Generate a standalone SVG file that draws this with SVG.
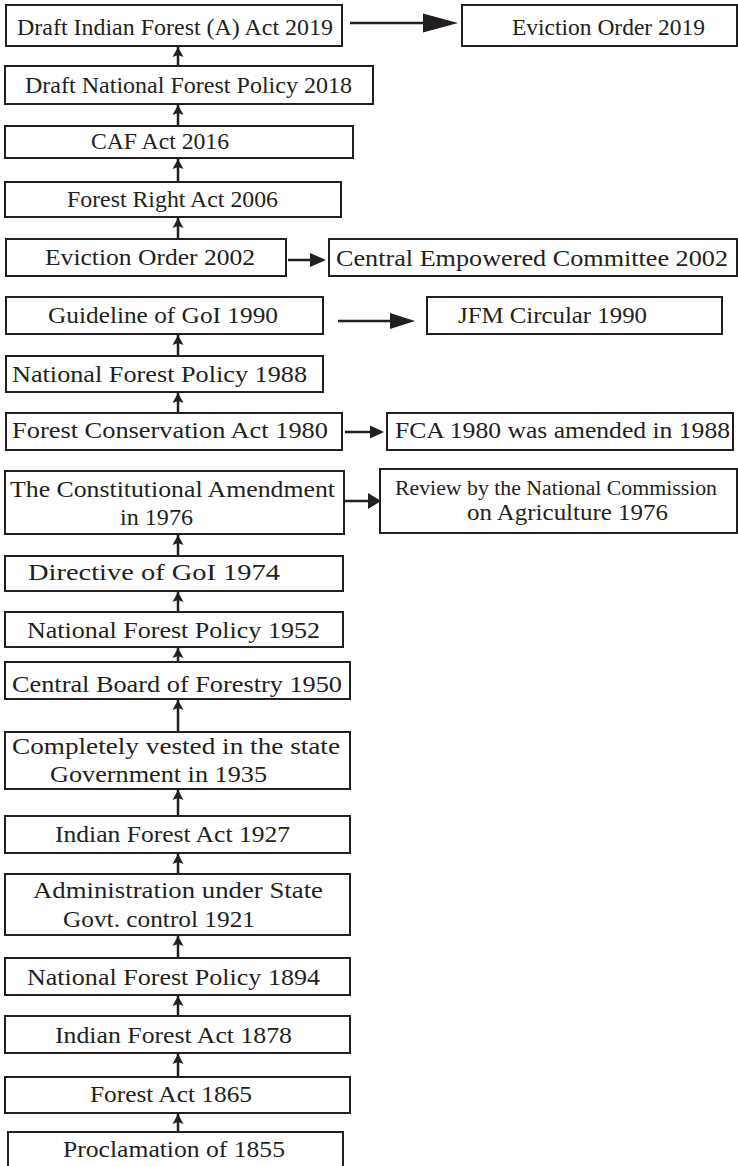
<svg xmlns="http://www.w3.org/2000/svg" width="738" height="1166" viewBox="0 0 738 1166">
<style>
.box{fill:#fff;stroke:#231f20;stroke-width:2}
.t{font-family:"Liberation Serif","Times New Roman",serif;font-size:24px;fill:#231f20}
.ln{stroke:#231f20;stroke-width:2.5;fill:none}
.hd{fill:#231f20}
</style>
<defs>
<marker id="up" markerUnits="userSpaceOnUse" markerWidth="12" markerHeight="12" refX="10" refY="6" orient="auto">
<polygon points="0,0.5 10,6 0,11.5 2,6" fill="#231f20"/>
</marker>
</defs>
<rect width="738" height="1166" fill="#fff"/>
<g id="connectors">
<line class="ln" x1="178" y1="66" x2="178" y2="47" marker-end="url(#up)"/>
<line class="ln" x1="178" y1="126" x2="178" y2="105" marker-end="url(#up)"/>
<line class="ln" x1="178" y1="182" x2="178" y2="159" marker-end="url(#up)"/>
<line class="ln" x1="178" y1="239" x2="178" y2="218" marker-end="url(#up)"/>
<line class="ln" x1="178" y1="356" x2="178" y2="335" marker-end="url(#up)"/>
<line class="ln" x1="178" y1="413" x2="178" y2="393" marker-end="url(#up)"/>
<line class="ln" x1="178" y1="556" x2="178" y2="535" marker-end="url(#up)"/>
<line class="ln" x1="178" y1="612" x2="178" y2="592" marker-end="url(#up)"/>
<line class="ln" x1="178" y1="662" x2="178" y2="648" marker-end="url(#up)"/>
<line class="ln" x1="178" y1="732" x2="178" y2="700" marker-end="url(#up)"/>
<line class="ln" x1="178" y1="816" x2="178" y2="790" marker-end="url(#up)"/>
<line class="ln" x1="178" y1="874" x2="178" y2="854" marker-end="url(#up)"/>
<line class="ln" x1="178" y1="958" x2="178" y2="936" marker-end="url(#up)"/>
<line class="ln" x1="178" y1="1016" x2="178" y2="996" marker-end="url(#up)"/>
<line class="ln" x1="178" y1="1077" x2="178" y2="1054" marker-end="url(#up)"/>
<line class="ln" x1="178" y1="1132" x2="178" y2="1114" marker-end="url(#up)"/>
<line class="ln" x1="350" y1="23" x2="425" y2="23"/>
<polygon class="hd" points="423,13.5 458,23 423,32.5"/>
<line class="ln" x1="288" y1="260" x2="312" y2="260"/>
<polygon class="hd" points="310,253 326,260 310,267"/>
<line class="ln" x1="338" y1="321" x2="392" y2="321"/>
<polygon class="hd" points="390,313 415,321 390,329"/>
<line class="ln" x1="345" y1="432" x2="372" y2="432"/>
<polygon class="hd" points="370,425.5 384,432 370,438.5"/>
<line class="ln" x1="345" y1="501" x2="370" y2="501"/>
<polygon class="hd" points="368,493 381,501 368,509"/>
</g>
<g id="n2019a"><rect class="box" x="6" y="5" width="336" height="41"/><text class="t" x="17" y="35" textLength="316" lengthAdjust="spacingAndGlyphs">Draft Indian Forest (A) Act 2019</text></g>
<g id="n2019b"><rect class="box" x="462" y="5" width="275" height="41"/><text class="t" x="512" y="35" textLength="193" lengthAdjust="spacingAndGlyphs">Eviction Order 2019</text></g>
<g id="n2018"><rect class="box" x="5" y="66" width="368" height="38"/><text class="t" x="25" y="93" textLength="327" lengthAdjust="spacingAndGlyphs">Draft National Forest Policy 2018</text></g>
<g id="n2016"><rect class="box" x="5" y="126" width="348" height="32"/><text class="t" x="91" y="149" textLength="138" lengthAdjust="spacingAndGlyphs">CAF Act 2016</text></g>
<g id="n2006"><rect class="box" x="5" y="182" width="336" height="35"/><text class="t" x="67" y="207" textLength="211" lengthAdjust="spacingAndGlyphs">Forest Right Act 2006</text></g>
<g id="n2002a"><rect class="box" x="6" y="239" width="280" height="37"/><text class="t" x="45" y="265" textLength="210" lengthAdjust="spacingAndGlyphs">Eviction Order 2002</text></g>
<g id="n2002b"><rect class="box" x="329" y="239" width="408" height="37"/><text class="t" x="336" y="266" textLength="392" lengthAdjust="spacingAndGlyphs">Central Empowered Committee 2002</text></g>
<g id="n1990a"><rect class="box" x="6" y="297" width="317" height="37"/><text class="t" x="48" y="323" textLength="230" lengthAdjust="spacingAndGlyphs">Guideline of GoI 1990</text></g>
<g id="n1990b"><rect class="box" x="427" y="297" width="295" height="37"/><text class="t" x="458" y="323" textLength="189" lengthAdjust="spacingAndGlyphs">JFM Circular 1990</text></g>
<g id="n1988"><rect class="box" x="6" y="356" width="317" height="36"/><text class="t" x="12" y="382" textLength="295" lengthAdjust="spacingAndGlyphs">National Forest Policy 1988</text></g>
<g id="n1980a"><rect class="box" x="6" y="413" width="336" height="37"/><text class="t" x="12" y="438" textLength="316" lengthAdjust="spacingAndGlyphs">Forest Conservation Act 1980</text></g>
<g id="n1980b"><rect class="box" x="387" y="413" width="346" height="37"/><text class="t" x="395" y="438" textLength="335" lengthAdjust="spacingAndGlyphs">FCA 1980 was amended in 1988</text></g>
<g id="n1976a"><rect class="box" x="5" y="471" width="339" height="63"/><text class="t" x="10" y="497" textLength="325" lengthAdjust="spacingAndGlyphs">The Constitutional Amendment</text><text class="t" x="120" y="525" textLength="73" lengthAdjust="spacingAndGlyphs">in 1976</text></g>
<g id="n1976b"><rect class="box" x="380" y="469" width="357" height="64"/><text class="t" x="395" y="495" font-size="20" style="font-size:20px" textLength="322" lengthAdjust="spacingAndGlyphs">Review by the National Commission</text><text class="t" x="467" y="520" textLength="201" lengthAdjust="spacingAndGlyphs">on Agriculture 1976</text></g>
<g id="n1974"><rect class="box" x="5" y="556" width="338" height="35"/><text class="t" x="28" y="580" textLength="252" lengthAdjust="spacingAndGlyphs">Directive of GoI 1974</text></g>
<g id="n1952"><rect class="box" x="5" y="612" width="338" height="35"/><text class="t" x="27" y="638" textLength="293" lengthAdjust="spacingAndGlyphs">National Forest Policy 1952</text></g>
<g id="n1950"><rect class="box" x="5" y="662" width="345" height="37"/><text class="t" x="12" y="692" textLength="330" lengthAdjust="spacingAndGlyphs">Central Board of Forestry 1950</text></g>
<g id="n1935"><rect class="box" x="5" y="732" width="345" height="57"/><text class="t" x="12" y="754" textLength="328" lengthAdjust="spacingAndGlyphs">Completely vested in the state</text><text class="t" x="50" y="782" textLength="217" lengthAdjust="spacingAndGlyphs">Government in 1935</text></g>
<g id="n1927"><rect class="box" x="5" y="816" width="345" height="37"/><text class="t" x="55" y="842" textLength="235" lengthAdjust="spacingAndGlyphs">Indian Forest Act 1927</text></g>
<g id="n1921"><rect class="box" x="5" y="874" width="345" height="61"/><text class="t" x="33" y="898" textLength="290" lengthAdjust="spacingAndGlyphs">Administration under State</text><text class="t" x="63" y="927" textLength="192" lengthAdjust="spacingAndGlyphs">Govt. control 1921</text></g>
<g id="n1894"><rect class="box" x="5" y="958" width="345" height="37"/><text class="t" x="27" y="985" textLength="293" lengthAdjust="spacingAndGlyphs">National Forest Policy 1894</text></g>
<g id="n1878"><rect class="box" x="5" y="1016" width="345" height="37"/><text class="t" x="55" y="1043" textLength="237" lengthAdjust="spacingAndGlyphs">Indian Forest Act 1878</text></g>
<g id="n1865"><rect class="box" x="5" y="1077" width="345" height="36"/><text class="t" x="90" y="1102" textLength="162" lengthAdjust="spacingAndGlyphs">Forest Act 1865</text></g>
<g id="n1855"><rect class="box" x="8" y="1132" width="335" height="40"/><text class="t" x="63" y="1157" textLength="222" lengthAdjust="spacingAndGlyphs">Proclamation of 1855</text></g>
</svg>
